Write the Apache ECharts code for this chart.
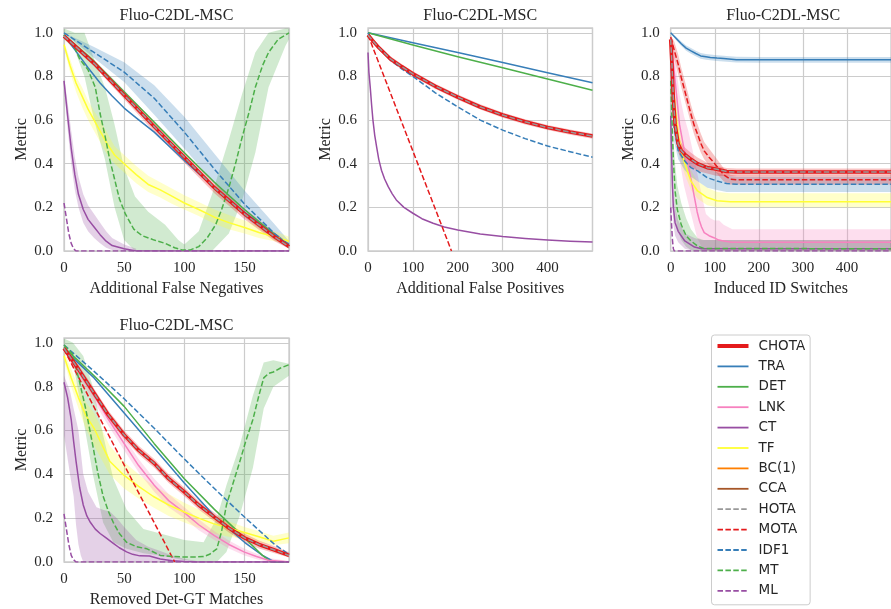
<!DOCTYPE html>
<html><head><meta charset="utf-8">
<script src="https://cdn.jsdelivr.net/npm/echarts@6/dist/echarts.min.js"></script>
<style>html,body{margin:0;padding:0;background:#fff}#c{width:891px;height:609px}</style>
</head><body><div id="c"></div><script>
// ---------------- Legend / metric names ----------------
const metricNames = ['CHOTA','TRA','DET','LNK','CT','TF','BC(1)','CCA','HOTA','MOTA','IDF1','MT','ML'];
const panelTitles = ['Fluo-C2DL-MSC','Fluo-C2DL-MSC','Fluo-C2DL-MSC','Fluo-C2DL-MSC'];
const xAxisNames = ['Additional False Negatives','Additional False Positives','Induced ID Switches','Removed Det-GT Matches'];
const xAxisMax = [187, 500, 500, 187];
const xAxisStep = [50, 100, 100, 50];

// ---------------- Panel 1: Additional False Negatives ----------------
const fn_CHOTA_x = [0,25,50,75,100,125,150,175,187];
const fn_CHOTA_y = [0.985,0.86,0.715,0.57,0.43,0.29,0.17,0.065,0.02];
const fn_CHOTA_hi = [0.995,0.875,0.735,0.595,0.455,0.315,0.195,0.085,0.035];
const fn_CHOTA_lo = [0.975,0.845,0.695,0.545,0.405,0.265,0.145,0.045,0.01];
const fn_TRA_x = [0,10,20,30,40,50,60,75,100,125,150,175,187];
const fn_TRA_y = [0.99,0.915,0.84,0.77,0.71,0.655,0.61,0.545,0.415,0.29,0.177,0.077,0.03];
const fn_DET_x = [0,25,50,75,100,125,150,175,187];
const fn_DET_y = [0.99,0.87,0.73,0.59,0.45,0.315,0.19,0.075,0.025];
const fn_IDF1_x = [0,25,50,75,100,125,150,175,187];
const fn_IDF1_y = [1.0,0.91,0.82,0.70,0.545,0.375,0.215,0.08,0.025];
const fn_IDF1_hi = [1.0,0.935,0.865,0.76,0.615,0.446,0.277,0.123,0.046];
const fn_IDF1_lo = [1.0,0.885,0.775,0.625,0.47,0.31,0.155,0.05,0.012];
const fn_TF_x = [0,5,10,15,20,25,30,36,42,50,60,70,80,90,100,112,125,137,150,162,175,187];
const fn_TF_y = [0.945,0.85,0.77,0.71,0.65,0.60,0.55,0.49,0.44,0.40,0.35,0.305,0.28,0.25,0.22,0.19,0.155,0.13,0.108,0.085,0.065,0.045];
const fn_TF_hi = [0.96,0.88,0.80,0.75,0.69,0.64,0.60,0.54,0.48,0.44,0.39,0.345,0.315,0.285,0.255,0.225,0.19,0.165,0.14,0.115,0.09,0.065];
const fn_TF_lo = [0.93,0.82,0.73,0.66,0.60,0.55,0.50,0.44,0.40,0.36,0.31,0.27,0.245,0.215,0.19,0.16,0.125,0.1,0.08,0.06,0.045,0.03];
const fn_CT_x = [0,3,6,9,12,16,20,25,30,35,40,50,60,70,187];
const fn_CT_y = [0.78,0.62,0.47,0.35,0.26,0.19,0.145,0.11,0.075,0.045,0.025,0.01,0.0,0.0,0.0];
const fn_CTb_x = [0,3,6,9,12,16,20,25,30,35,40,50,60];
const fn_CT_hi = [0.8,0.68,0.55,0.43,0.34,0.26,0.21,0.17,0.13,0.09,0.06,0.03,0.01];
const fn_CT_lo = [0.76,0.56,0.4,0.28,0.2,0.13,0.09,0.06,0.035,0.015,0.005,0,0];
const fn_ML_x = [0,2,4,6,8,10,187];
const fn_ML_y = [0.22,0.15,0.08,0.035,0.01,0.0,0.0];
const fn_MT_x = [0,9,13,20,26,30,34,38,42,46,51,58,65,75,84,92,98,105,112,119,126,131,137,143,148,154,159,165,170,178,187];
const fn_MT_y = [0.99,0.93,0.88,0.83,0.75,0.63,0.53,0.42,0.33,0.24,0.17,0.10,0.07,0.05,0.035,0.015,0.005,0.005,0.02,0.06,0.12,0.19,0.29,0.41,0.52,0.64,0.75,0.85,0.91,0.97,1.0];
const fn_MTb_x = [0,9,17,25,34,42,50,59,70,84,95,100,112,123,137,148,159,170,184,187];
const fn_MT_hi = [1.02,1.0,1.0,0.88,0.75,0.58,0.38,0.25,0.18,0.12,0.05,0.03,0.09,0.26,0.51,0.72,0.91,1.0,1.02,1.02];
const fn_MT_lo = [0.97,0.92,0.8,0.6,0.42,0.2,0.05,0.0,0.0,0.0,0.0,0.0,0.0,0.0,0.08,0.23,0.45,0.75,0.94,0.97];

// ---------------- Panel 2: Additional False Positives ----------------
const fp_TRA_x = [0,100,200,300,400,500];
const fp_TRA_y = [1.0,0.954,0.91,0.864,0.817,0.771];
const fp_DET_x = [0,100,200,300,400,500];
const fp_DET_y = [1.0,0.944,0.89,0.84,0.788,0.737];
const fp_CHOTA_x = [0,10,25,50,75,100,150,200,250,300,350,400,450,500];
const fp_CHOTA_y = [0.99,0.965,0.93,0.88,0.845,0.812,0.755,0.705,0.66,0.623,0.592,0.566,0.545,0.527];
const fp_CHOTA_hi = [0.995,0.975,0.94,0.892,0.857,0.824,0.767,0.717,0.672,0.635,0.604,0.578,0.557,0.539];
const fp_CHOTA_lo = [0.985,0.955,0.92,0.868,0.833,0.8,0.743,0.693,0.648,0.611,0.58,0.554,0.533,0.515];
const fp_IDF1_x = [0,10,25,50,75,100,150,200,250,300,350,400,450,500];
const fp_IDF1_y = [1.0,0.965,0.93,0.875,0.835,0.80,0.725,0.66,0.60,0.554,0.515,0.481,0.455,0.43];
const fp_MOTA_x = [0,186];
const fp_MOTA_y = [0.99,0.0];
const fp_CT_x = [0,2,5,8,11,15,19,24,30,37,45,54,63,80,100,120,145,170,200,250,300,350,400,450,500];
const fp_CT_y = [0.91,0.82,0.75,0.67,0.60,0.53,0.48,0.42,0.37,0.33,0.295,0.262,0.234,0.2,0.173,0.148,0.127,0.11,0.096,0.078,0.066,0.057,0.05,0.045,0.041];

// ---------------- Panel 3: Induced ID Switches ----------------
const id_TRA_x = [0,12,24,35,46,57,68,80,90,105,120,149,200,300,400,500];
const id_TRA_y = [1.0,0.975,0.95,0.93,0.917,0.905,0.894,0.89,0.887,0.884,0.882,0.877,0.876,0.876,0.876,0.876];
const id_TRA_hi = [1.0,0.983,0.96,0.942,0.93,0.918,0.907,0.903,0.9,0.897,0.895,0.89,0.889,0.889,0.889,0.889];
const id_TRA_lo = [1.0,0.967,0.94,0.918,0.904,0.892,0.881,0.877,0.874,0.871,0.869,0.864,0.863,0.863,0.863,0.863];
const id_CHOTA_x = [0,3,6,10,17,24,32,46,61,83,105,127,150,200,300,400,500];
const id_CHOTA_y = [0.97,0.85,0.7,0.58,0.49,0.46,0.443,0.42,0.40,0.382,0.375,0.364,0.362,0.362,0.362,0.362,0.362];
const id_CHOTA_hi = [0.98,0.88,0.74,0.62,0.53,0.495,0.474,0.45,0.428,0.405,0.39,0.38,0.378,0.378,0.378,0.378,0.378];
const id_CHOTA_lo = [0.96,0.82,0.66,0.54,0.45,0.425,0.405,0.385,0.367,0.355,0.344,0.344,0.344,0.344,0.344,0.344,0.344];
const id_MOTA_x = [0,8,17,24,32,39,46,53,61,68,76,87,98,109,120,135,150,500];
const id_MOTA_y = [0.98,0.92,0.856,0.795,0.734,0.68,0.627,0.578,0.535,0.495,0.459,0.43,0.405,0.378,0.35,0.329,0.326,0.326];
const id_MOTA_hi = [0.99,0.96,0.9,0.84,0.78,0.725,0.67,0.622,0.58,0.54,0.50,0.47,0.44,0.41,0.38,0.35,0.345,0.345];
const id_MOTA_lo = [0.97,0.88,0.81,0.75,0.69,0.637,0.585,0.535,0.49,0.452,0.42,0.392,0.37,0.345,0.32,0.305,0.305,0.305];
const id_IDF1_x = [0,3,8,17,32,46,61,83,105,127,150,500];
const id_IDF1_y = [0.95,0.75,0.56,0.46,0.413,0.382,0.367,0.336,0.321,0.309,0.306,0.306];
const id_IDF1_hi = [0.96,0.8,0.62,0.5,0.45,0.42,0.41,0.38,0.36,0.345,0.34,0.34];
const id_IDF1_lo = [0.94,0.7,0.5,0.42,0.37,0.34,0.32,0.29,0.28,0.27,0.27,0.27];
const id_TF_x = [0,5,10,17,24,32,46,61,83,105,135,500];
const id_TF_y = [0.92,0.78,0.66,0.535,0.455,0.40,0.32,0.275,0.245,0.23,0.226,0.226];
const id_TF_hi = [0.94,0.82,0.72,0.6,0.51,0.45,0.37,0.32,0.29,0.27,0.265,0.265];
const id_TF_lo = [0.9,0.74,0.6,0.47,0.40,0.35,0.28,0.24,0.21,0.2,0.2,0.2];
const id_LNK_x = [0,5,10,20,30,39,47,54,60,65,70,76,87,98,109,120,138,500];
const id_LNK_y = [0.95,0.88,0.78,0.58,0.47,0.40,0.32,0.245,0.18,0.14,0.11,0.084,0.07,0.061,0.05,0.046,0.04,0.04];
const id_LNKb_x = [0,5,10,20,30,40,50,60,70,80,90,100,110,120,130,140,500];
const id_LNK_hi = [0.97,0.94,0.88,0.72,0.62,0.55,0.46,0.36,0.26,0.17,0.15,0.14,0.14,0.12,0.11,0.10,0.10];
const id_LNK_lo = [0.9,0.8,0.66,0.42,0.3,0.22,0.14,0.06,0.02,0.0,0,0,0,0,0,0,0];
const id_MT_x = [0,3,6,10,15,24,35,46,61,75,500];
const id_MT_y = [0.78,0.6,0.42,0.275,0.19,0.12,0.07,0.046,0.023,0.012,0.01];
const id_MT_hi = [0.82,0.68,0.52,0.4,0.3,0.22,0.15,0.1,0.06,0.05,0.05];
const id_MT_lo = [0.72,0.5,0.32,0.18,0.1,0.05,0.02,0.005,0,0,0];
const id_CT_x = [0,2,4,6,10,17,32,54,70,500];
const id_CT_y = [0.62,0.45,0.3,0.2,0.13,0.09,0.046,0.018,0.01,0.01];
const id_CT_hi = [0.7,0.55,0.4,0.3,0.2,0.14,0.08,0.06,0.05,0.05];
const id_CT_lo = [0.52,0.35,0.2,0.12,0.07,0.04,0.01,0,0,0];
const id_ML_x = [0,2,4,6,8,500];
const id_ML_y = [0.2,0.12,0.05,0.01,0.0,0.0];

// ---------------- Panel 4: Removed Det-GT Matches ----------------
const rm_IDF1_x = [0,25,50,75,100,125,150,175,187];
const rm_IDF1_y = [0.99,0.87,0.745,0.61,0.47,0.335,0.205,0.08,0.035];
const rm_DET_x = [0,25,50,75,100,125,150,165,172,187];
const rm_DET_y = [0.98,0.85,0.71,0.54,0.38,0.24,0.11,0.03,0.0,0.0];
const rm_TRA_x = [0,25,50,75,100,125,150,165,175,187];
const rm_TRA_y = [0.97,0.84,0.68,0.52,0.36,0.21,0.09,0.03,0.0,0.0];
const rm_CHOTA_x = [0,12,25,37,50,62,75,87,100,112,125,137,150,162,175,187];
const rm_CHOTA_y = [0.975,0.88,0.77,0.67,0.58,0.51,0.45,0.38,0.32,0.26,0.205,0.155,0.11,0.08,0.055,0.03];
const rm_CHOTA_hi = [0.985,0.9,0.79,0.69,0.6,0.53,0.47,0.4,0.34,0.28,0.225,0.175,0.13,0.098,0.072,0.045];
const rm_CHOTA_lo = [0.965,0.86,0.75,0.65,0.56,0.49,0.43,0.36,0.30,0.24,0.185,0.135,0.09,0.062,0.04,0.02];
const rm_MOTA_x = [0,92];
const rm_MOTA_y = [0.97,0.0];
const rm_LNK_x = [0,12,25,37,50,62,75,87,100,112,125,137,150,160,170,187];
const rm_LNK_y = [0.97,0.87,0.76,0.65,0.54,0.44,0.35,0.28,0.225,0.17,0.12,0.08,0.045,0.025,0.008,0.0];
const rm_LNK_hi = [0.98,0.895,0.79,0.68,0.57,0.47,0.38,0.31,0.25,0.195,0.14,0.098,0.06,0.038,0.018,0.005];
const rm_LNK_lo = [0.96,0.845,0.73,0.62,0.51,0.41,0.32,0.25,0.2,0.145,0.1,0.062,0.03,0.012,0.0,0.0];
const rm_TF_x = [0,6,12,18,25,38,50,62,74,87,100,112,124,137,150,162,174,187];
const rm_TF_y = [0.94,0.84,0.75,0.67,0.61,0.46,0.395,0.345,0.30,0.26,0.228,0.2,0.175,0.155,0.135,0.115,0.095,0.11];
const rm_TF_hi = [0.96,0.88,0.8,0.73,0.68,0.53,0.456,0.4,0.35,0.31,0.27,0.24,0.21,0.185,0.16,0.14,0.12,0.135];
const rm_TF_lo = [0.92,0.8,0.7,0.61,0.53,0.4,0.335,0.29,0.25,0.21,0.18,0.155,0.13,0.115,0.106,0.09,0.076,0.085];
const rm_CT_x = [0,3,6,8,10,13,16,19,22,26,30,35,41,46,52,57,63,71,80,90,100,110,187];
const rm_CT_y = [0.82,0.75,0.65,0.55,0.46,0.34,0.26,0.21,0.18,0.15,0.13,0.11,0.085,0.065,0.046,0.035,0.028,0.027,0.014,0.006,0.002,0.0,0.0];
const rm_CTb_x = [0,5,8,10,12,14,16,20,27,33,38,44,50,60,70,80,90,100,110];
const rm_CT_hi = [0.85,0.78,0.7,0.65,0.6,0.5,0.4,0.32,0.25,0.237,0.23,0.2,0.16,0.1,0.07,0.05,0.03,0.015,0.005];
const rm_CT_lo = [0.58,0.4,0.3,0.17,0.08,0.03,0,0,0,0,0,0,0,0,0,0,0,0,0];
const rm_ML_x = [0,2,4,6,8,10,187];
const rm_ML_y = [0.22,0.15,0.08,0.03,0.01,0.0,0.0];
const rm_MT_x = [0,7,13,18,24,28,32.5,37,41,46,52,60,69,80,90,100,110,116,121,127,131,135,140,146,151,157,162,166,170,174,180,187];
const rm_MT_y = [0.99,0.95,0.82,0.7,0.53,0.41,0.30,0.23,0.18,0.13,0.09,0.07,0.06,0.03,0.025,0.023,0.023,0.025,0.035,0.06,0.14,0.26,0.35,0.456,0.55,0.65,0.76,0.84,0.86,0.867,0.885,0.90];
const rm_MTb_x = [0,7.5,16,24,32.5,41,52,66,80,100,116,127,135,146,157,166,174,187];
const rm_MT_hi = [1.02,1.0,0.94,0.8,0.58,0.38,0.24,0.15,0.13,0.10,0.09,0.2,0.35,0.53,0.76,0.91,0.92,0.905];
const rm_MT_lo = [0.97,0.91,0.65,0.4,0.18,0.09,0.06,0.04,0.03,0.008,0.0,0.0,0.046,0.21,0.43,0.7,0.8,0.85];

// ---------------- assembly ----------------
const colorOf = {CHOTA:'#e41a1c',TRA:'#377eb8',DET:'#4daf4a',LNK:'#f781bf',CT:'#984ea3',TF:'#ffff33',
  'BC(1)':'#ff7f00',CCA:'#a65628',HOTA:'#999999',MOTA:'#e41a1c',IDF1:'#377eb8',MT:'#4daf4a',ML:'#984ea3'};
const dashed = {HOTA:true,MOTA:true,IDF1:true,MT:true,ML:true};

const panelBands = [
  [['MT',fn_MTb_x,fn_MT_hi,fn_MT_lo],['IDF1',fn_IDF1_x,fn_IDF1_hi,fn_IDF1_lo],['TF',fn_TF_x,fn_TF_hi,fn_TF_lo],
   ['CT',fn_CTb_x,fn_CT_hi,fn_CT_lo],['CHOTA',fn_CHOTA_x,fn_CHOTA_hi,fn_CHOTA_lo]],
  [['CHOTA',fp_CHOTA_x,fp_CHOTA_hi,fp_CHOTA_lo]],
  [['TRA',id_TRA_x,id_TRA_hi,id_TRA_lo],['LNK',id_LNKb_x,id_LNK_hi,id_LNK_lo],['MT',id_MT_x,id_MT_hi,id_MT_lo],
   ['CT',id_CT_x,id_CT_hi,id_CT_lo],['TF',id_TF_x,id_TF_hi,id_TF_lo],['IDF1',id_IDF1_x,id_IDF1_hi,id_IDF1_lo],
   ['MOTA',id_MOTA_x,id_MOTA_hi,id_MOTA_lo],['CHOTA',id_CHOTA_x,id_CHOTA_hi,id_CHOTA_lo]],
  [['MT',rm_MTb_x,rm_MT_hi,rm_MT_lo],['CT',rm_CTb_x,rm_CT_hi,rm_CT_lo],['TF',rm_TF_x,rm_TF_hi,rm_TF_lo],
   ['LNK',rm_LNK_x,rm_LNK_hi,rm_LNK_lo],['CHOTA',rm_CHOTA_x,rm_CHOTA_hi,rm_CHOTA_lo]]
];
const panelLines = [
  [['TRA',fn_TRA_x,fn_TRA_y],['DET',fn_DET_x,fn_DET_y],['CT',fn_CT_x,fn_CT_y],['TF',fn_TF_x,fn_TF_y],
   ['IDF1',fn_IDF1_x,fn_IDF1_y],['MT',fn_MT_x,fn_MT_y],['ML',fn_ML_x,fn_ML_y],
   ['CHOTA',fn_CHOTA_x,fn_CHOTA_y],['HOTA',fn_CHOTA_x,fn_CHOTA_y]],
  [['TRA',fp_TRA_x,fp_TRA_y],['DET',fp_DET_x,fp_DET_y],['CT',fp_CT_x,fp_CT_y],['MOTA',fp_MOTA_x,fp_MOTA_y],
   ['IDF1',fp_IDF1_x,fp_IDF1_y],['CHOTA',fp_CHOTA_x,fp_CHOTA_y],['HOTA',fp_CHOTA_x,fp_CHOTA_y]],
  [['TRA',id_TRA_x,id_TRA_y],['LNK',id_LNK_x,id_LNK_y],['CT',id_CT_x,id_CT_y],['TF',id_TF_x,id_TF_y],
   ['MOTA',id_MOTA_x,id_MOTA_y],['IDF1',id_IDF1_x,id_IDF1_y],['MT',id_MT_x,id_MT_y],['ML',id_ML_x,id_ML_y],
   ['CHOTA',id_CHOTA_x,id_CHOTA_y],['HOTA',id_CHOTA_x,id_CHOTA_y]],
  [['TRA',rm_TRA_x,rm_TRA_y],['DET',rm_DET_x,rm_DET_y],['LNK',rm_LNK_x,rm_LNK_y],['CT',rm_CT_x,rm_CT_y],
   ['TF',rm_TF_x,rm_TF_y],['MOTA',rm_MOTA_x,rm_MOTA_y],['IDF1',rm_IDF1_x,rm_IDF1_y],['MT',rm_MT_x,rm_MT_y],
   ['ML',rm_ML_x,rm_ML_y],['CHOTA',rm_CHOTA_x,rm_CHOTA_y],['HOTA',rm_CHOTA_x,rm_CHOTA_y]]
];

const layout = [
  {left:64, top:28, width:225, height:223},
  {left:368, top:28, width:224.5, height:223},
  {left:670.7, top:28, width:225, height:223},
  {left:64, top:338, width:225, height:224}
];
const SERIF = 'Liberation Serif';
const TXT = '#262626';
const GRIDC = '#cccccc';

const grids = [], xAxes = [], yAxes = [], titles = [], series = [];
layout.forEach((L, i) => {
  grids.push({left:L.left, top:L.top, width:L.width, height:L.height, show:true, borderColor:GRIDC, borderWidth:1.3, backgroundColor:'#ffffff', containLabel:false});
  xAxes.push({type:'value', gridIndex:i, min:0, max:xAxisMax[i], interval:xAxisStep[i],
    axisLine:{show:false}, axisTick:{show:false},
    splitLine:{show:true, lineStyle:{color:GRIDC, width:1.2}},
    axisLabel:{fontFamily:SERIF, fontSize:15, color:TXT, margin:10, showMaxLabel:false},
    name:xAxisNames[i], nameLocation:'middle', nameGap:30,
    nameTextStyle:{fontFamily:SERIF, fontSize:16, color:TXT}});
  yAxes.push({type:'value', gridIndex:i, min:0, max:1.022, interval:0.2,
    axisLine:{show:false}, axisTick:{show:false},
    splitLine:{show:true, lineStyle:{color:GRIDC, width:1.2}},
    axisLabel:{fontFamily:SERIF, fontSize:15, color:TXT, margin:11, showMaxLabel:false, formatter:v=>v.toFixed(1)},
    name:'Metric', nameLocation:'middle', nameGap:34, nameRotate:90,
    nameTextStyle:{fontFamily:SERIF, fontSize:16, color:TXT}});
  titles.push({text:panelTitles[i], left:L.left + L.width/2, top:L.top - 20, textAlign:'center', padding:0,
    textStyle:{fontFamily:SERIF, fontSize:16, fontWeight:'normal', color:TXT}});

  panelBands[i].forEach(([name, bx, hi, lo]) => {
    series.push({type:'custom', xAxisIndex:i, yAxisIndex:i, clip:true, silent:true, z:1,
      data:[[0,0]],
      renderItem:(params, api) => {
        const pts = [];
        for (let k = 0; k < bx.length; k++) pts.push(api.coord([bx[k], hi[k]]));
        for (let k = bx.length - 1; k >= 0; k--) pts.push(api.coord([bx[k], lo[k]]));
        return {type:'polygon', shape:{points:pts}, style:{fill:colorOf[name], opacity:0.26}};
      }});
  });
  panelLines[i].forEach(([name, xs, ys]) => {
    const isC = name === 'CHOTA';
    series.push({type:'line', name, xAxisIndex:i, yAxisIndex:i, symbol:'none', showSymbol:false,
      smooth:false, silent:true, animation:false,
      z: isC ? 3 : (name === 'HOTA' ? 4 : 2),
      itemStyle:{color:colorOf[name]},
      lineStyle:{color:colorOf[name], width: isC ? 3.6 : 1.5, type: dashed[name] ? [5.5,2.4] : 'solid', join:'round'},
      data: xs.map((x, k) => [x, ys[k]])});
  });
});
// metrics that never surface above other curves: only listed in the legend
['BC(1)','CCA'].forEach(name => {
  series.push({type:'line', name, xAxisIndex:0, yAxisIndex:0, symbol:'none', data:[],
    itemStyle:{color:colorOf[name]}, lineStyle:{color:colorOf[name], width:1.5}});
});

const chart = echarts.init(document.getElementById('c'), null, {renderer:'canvas'});
chart.setOption({
  animation:false,
  backgroundColor:'#ffffff',
  title:titles,
  grid:grids, xAxis:xAxes, yAxis:yAxes,
  legend:{orient:'vertical', left:711.5, top:335, padding:[4,5,7,4], itemWidth:31, itemHeight:14, itemGap:6.4,
    borderColor:'#cccccc', borderWidth:1, borderRadius:3, backgroundColor:'#ffffff',
    itemStyle:{opacity:0}, selectedMode:false,
    textStyle:{fontFamily:'DejaVu Sans', fontSize:13.5, color:TXT, padding:[0,0,0,5]},
    data: metricNames.map(n => ({name:n, lineStyle:{width: n === 'CHOTA' ? 4 : 1.8}}))},
  series
});
</script></body></html>
